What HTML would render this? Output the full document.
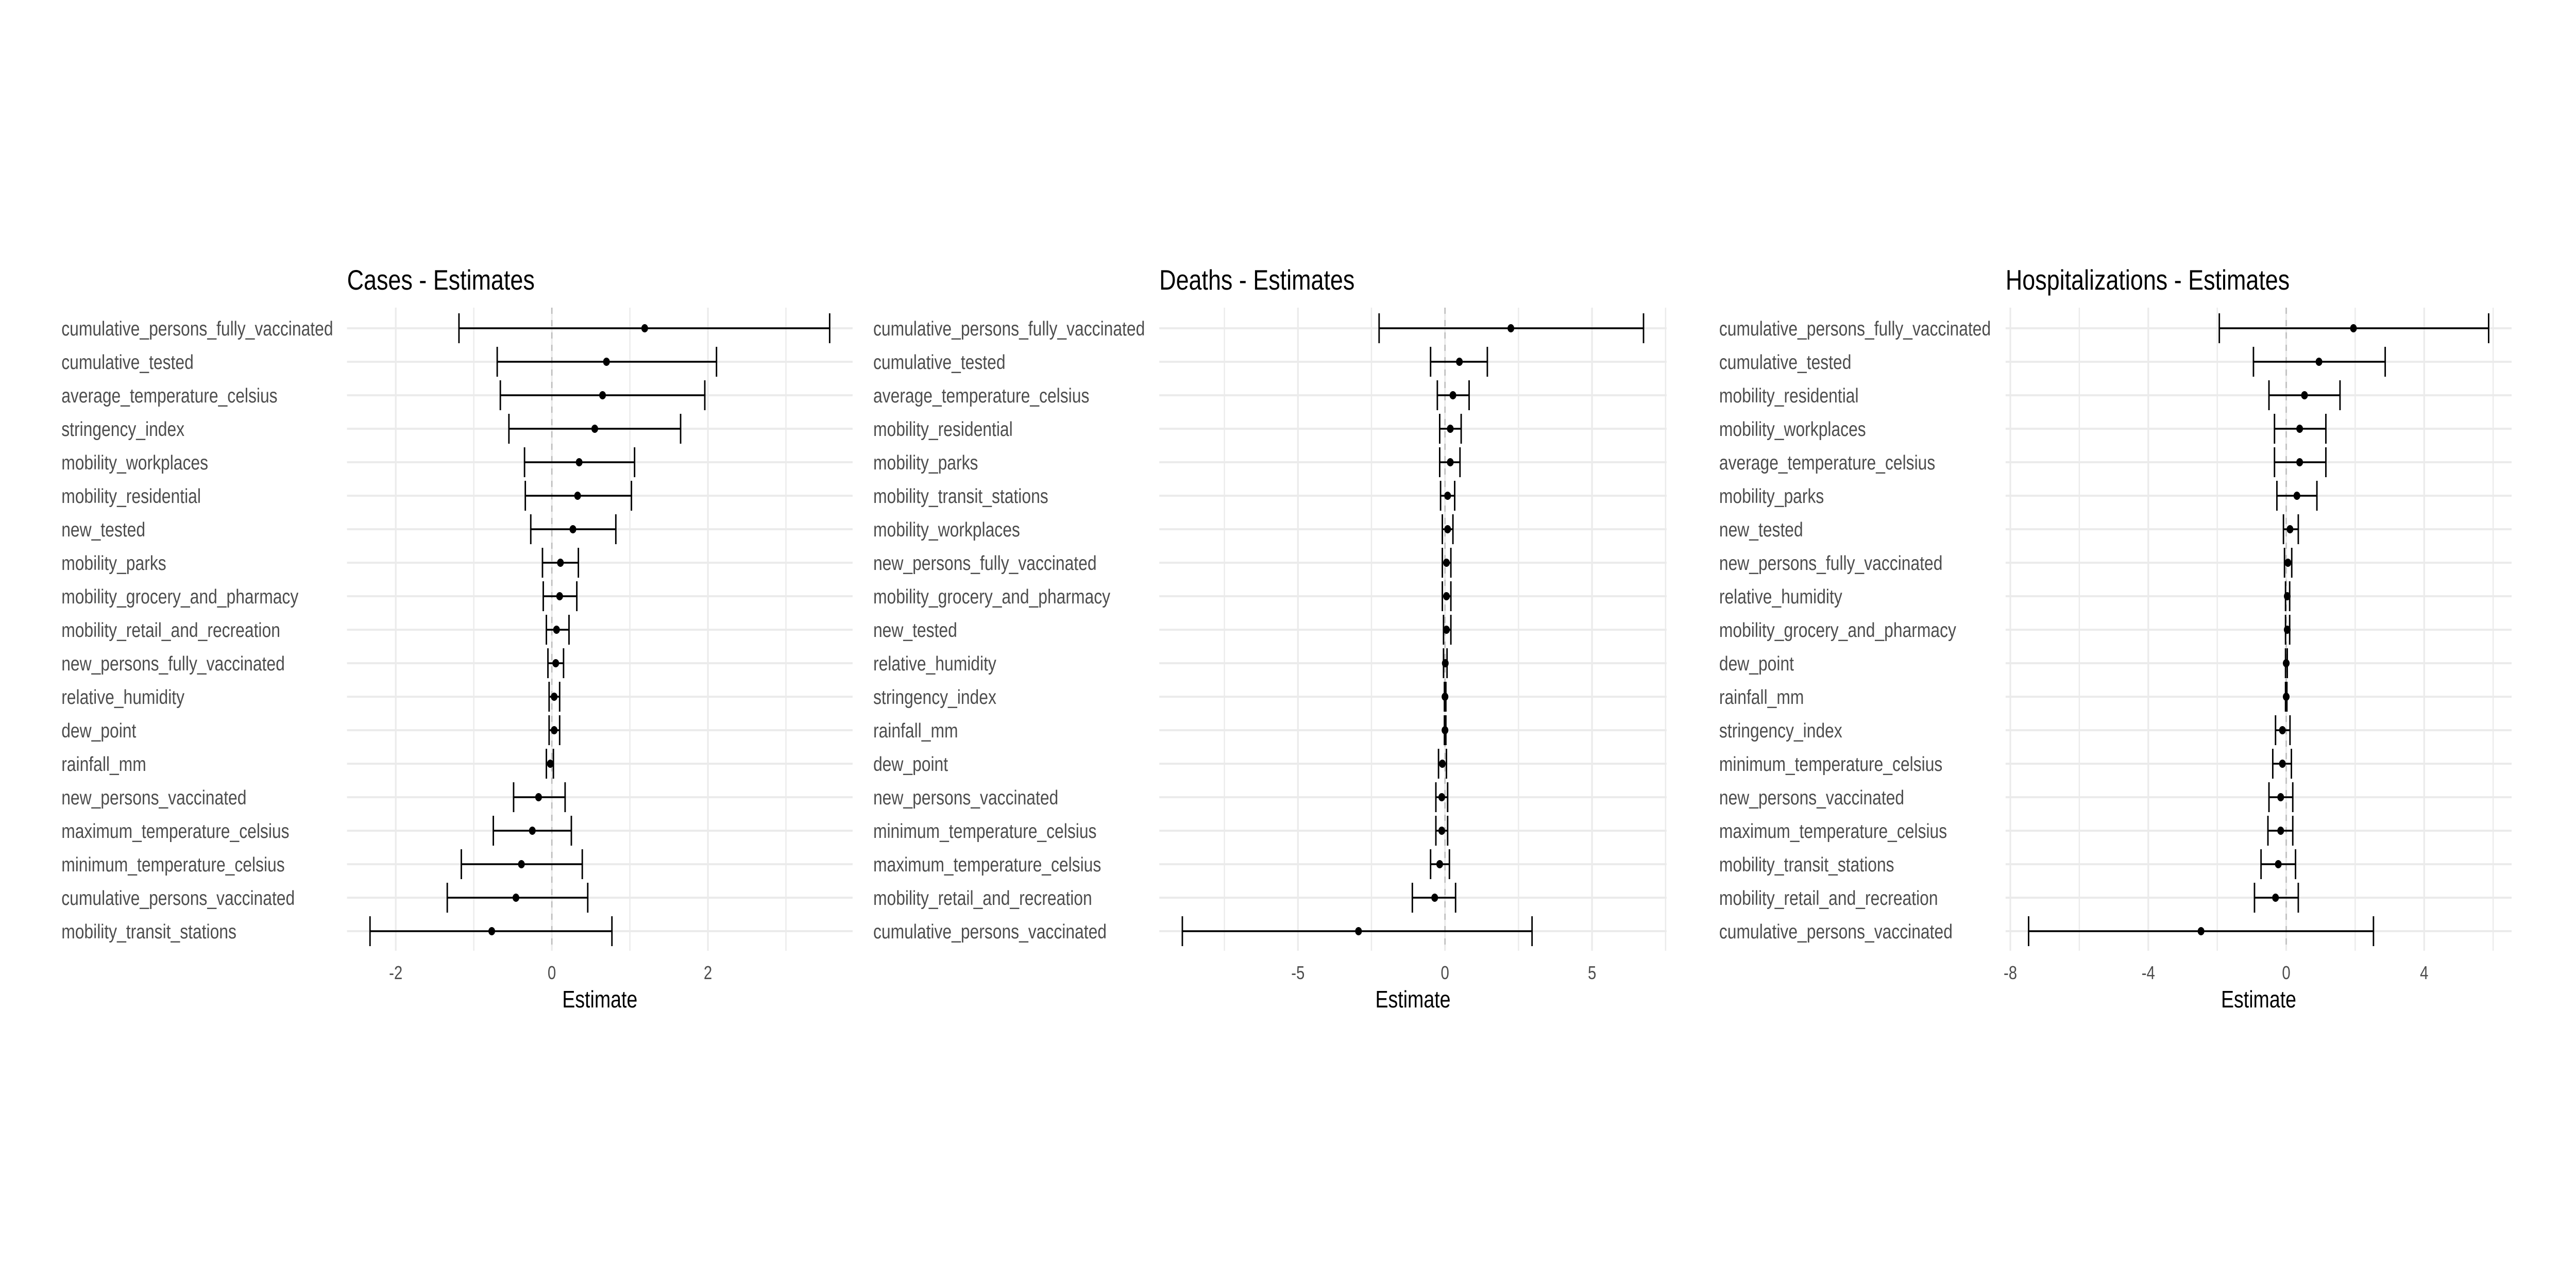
<!DOCTYPE html>
<html>
<head>
<meta charset="utf-8">
<meta name="viewport" content="width=6124, initial-scale=1">
<style>
  html, body { margin: 0; padding: 0; background: #ffffff; overflow: hidden; width: 6124px; height: 2480px; }
  svg { display: block; position: fixed; left: 0; top: 0; width: 100vw; height: 100vh; }
  text { font-family: "Liberation Sans", Arial, sans-serif; }
</style>
</head>
<body>
<svg id="chart" xmlns="http://www.w3.org/2000/svg" viewBox="0 0 6124 2480" preserveAspectRatio="none">
  <rect x="0" y="0" width="6124" height="2480" fill="#ffffff"/>
</svg>
<script>
// ---- Cases ----
const casesLabels = ["cumulative_persons_fully_vaccinated","cumulative_tested","average_temperature_celsius","stringency_index","mobility_workplaces","mobility_residential","new_tested","mobility_parks","mobility_grocery_and_pharmacy","mobility_retail_and_recreation","new_persons_fully_vaccinated","relative_humidity","dew_point","rainfall_mm","new_persons_vaccinated","maximum_temperature_celsius","minimum_temperature_celsius","cumulative_persons_vaccinated","mobility_transit_stations"];
const casesEst = [1.19,0.70,0.65,0.55,0.35,0.33,0.27,0.11,0.10,0.06,0.05,0.03,0.03,-0.02,-0.17,-0.25,-0.39,-0.46,-0.77];
const casesLo = [-1.19,-0.70,-0.66,-0.55,-0.35,-0.34,-0.27,-0.12,-0.11,-0.07,-0.05,-0.035,-0.035,-0.07,-0.49,-0.75,-1.16,-1.34,-2.33];
const casesHi = [3.56,2.11,1.96,1.65,1.06,1.02,0.82,0.34,0.32,0.22,0.15,0.10,0.10,0.02,0.17,0.25,0.39,0.46,0.77];
const casesBreaks = [-2,0,2];
const casesMinor = [-1,1,3];

// ---- Deaths ----
const deathsLabels = ["cumulative_persons_fully_vaccinated","cumulative_tested","average_temperature_celsius","mobility_residential","mobility_parks","mobility_transit_stations","mobility_workplaces","new_persons_fully_vaccinated","mobility_grocery_and_pharmacy","new_tested","relative_humidity","stringency_index","rainfall_mm","dew_point","new_persons_vaccinated","minimum_temperature_celsius","maximum_temperature_celsius","mobility_retail_and_recreation","cumulative_persons_vaccinated"];
const deathsEst = [2.24,0.49,0.27,0.18,0.18,0.09,0.09,0.05,0.05,0.05,0.01,0,0,-0.09,-0.11,-0.11,-0.18,-0.35,-2.94];
const deathsLo = [-2.24,-0.49,-0.26,-0.18,-0.18,-0.15,-0.09,-0.09,-0.09,-0.05,-0.05,-0.02,-0.02,-0.22,-0.31,-0.31,-0.49,-1.11,-8.93];
const deathsHi = [6.75,1.44,0.82,0.55,0.51,0.33,0.27,0.20,0.20,0.20,0.07,0.03,0.03,0.05,0.09,0.09,0.15,0.36,2.96];
const deathsBreaks = [-5,0,5];
const deathsMinor = [-7.5,-2.5,2.5,7.5];

// ---- Hospitalizations ----
const hospLabels = ["cumulative_persons_fully_vaccinated","cumulative_tested","mobility_residential","mobility_workplaces","average_temperature_celsius","mobility_parks","new_tested","new_persons_fully_vaccinated","relative_humidity","mobility_grocery_and_pharmacy","dew_point","rainfall_mm","stringency_index","minimum_temperature_celsius","new_persons_vaccinated","maximum_temperature_celsius","mobility_transit_stations","mobility_retail_and_recreation","cumulative_persons_vaccinated"];
const hospEst = [1.95,0.95,0.53,0.39,0.39,0.31,0.11,0.05,0.03,0.03,0,0,-0.11,-0.11,-0.16,-0.16,-0.23,-0.31,-2.47];
const hospLo = [-1.94,-0.95,-0.50,-0.34,-0.34,-0.27,-0.08,-0.05,-0.02,-0.02,-0.02,-0.02,-0.31,-0.39,-0.50,-0.53,-0.73,-0.92,-7.47];
const hospHi = [5.87,2.87,1.56,1.15,1.15,0.89,0.35,0.16,0.10,0.10,0.03,0.02,0.11,0.15,0.19,0.19,0.27,0.35,2.53];
const hospBreaks = [-8,-4,0,4];
const hospMinor = [-6,-2,2,6];

const NS = "http://www.w3.org/2000/svg";
const svg = document.getElementById("chart");
function mk(tag, attrs, parent) {
  const e = document.createElementNS(NS, tag);
  for (const k in attrs) e.setAttribute(k, attrs[k]);
  (parent || svg).appendChild(e);
  return e;
}

const ROW0 = 637, ROWSTEP = 65.0, PTOP = 597, PBOT = 1845;

function drawPanel(key, title, labels, est, lo, hi, breaks, minor, labelX, px0, px1) {
  const g = mk("g", {});
  
  
  const dmin = Math.min(...lo), dmax = Math.max(...hi);
  const pad = (dmax - dmin) * 0.05;
  const d0 = dmin - pad, d1 = dmax + pad;
  const xs = v => px0 + (v - d0) / (d1 - d0) * (px1 - px0);
  const ys = i => ROW0 + i * ROWSTEP;

  minor.forEach(v => {
    if (v < d0 || v > d1) return;
    const l = mk("line", {x1: xs(v), x2: xs(v), y1: PTOP, y2: PBOT, stroke: "#ebebeb", "stroke-width": 3}, g);
    
    
  });
  breaks.forEach(v => {
    const l = mk("line", {x1: xs(v), x2: xs(v), y1: PTOP, y2: PBOT, stroke: "#ebebeb", "stroke-width": 4}, g);
    
    
  });
  labels.forEach((lab, i) => {
    const l = mk("line", {x1: px0, x2: px1, y1: ys(i), y2: ys(i), stroke: "#ebebeb", "stroke-width": 4}, g);
    
    
  });
  const z = mk("line", {x1: xs(0), x2: xs(0), y1: PTOP, y2: PBOT, stroke: "#bdbdbd", "stroke-width": 3, "stroke-dasharray": "12 12"}, g);
  
  

  const t = mk("text", {x: px0, y: 562, "font-size": 55, fill: "#000"}, g);
  t.textContent = title;
  
  

  labels.forEach((lab, i) => {
    const tx = mk("text", {x: labelX, y: ys(i) + 14, "font-size": 39, fill: "#4d4d4d"}, g);
    tx.textContent = lab;
    
    
  });

  est.forEach((v, i) => {
    const y = ys(i);
    const eb = mk("g", {stroke: "#000", "stroke-width": 3.5, fill: "none"}, g);
    
    
    mk("line", {x1: xs(lo[i]), x2: xs(hi[i]), y1: y, y2: y}, eb);
    mk("line", {x1: xs(lo[i]), x2: xs(lo[i]), y1: y - 29, y2: y + 29}, eb);
    mk("line", {x1: xs(hi[i]), x2: xs(hi[i]), y1: y - 29, y2: y + 29}, eb);
    const c = mk("circle", {cx: xs(v), cy: y, r: 8, fill: "#000"}, g);
    
    
  });

  breaks.forEach(v => {
    const tl = mk("text", {x: xs(v), y: 1900, "font-size": 36, fill: "#4d4d4d", "text-anchor": "middle"}, g);
    tl.textContent = String(v);
    
    
  });
  const at = mk("text", {x: (px0 + px1) / 2, y: 1955, "font-size": 46, fill: "#000", "text-anchor": "middle"}, g);
  at.textContent = "Estimate";
  
  
}

drawPanel("cases", "Cases - Estimates", casesLabels, casesEst, casesLo, casesHi, casesBreaks, casesMinor, 146, 825, 2027);
drawPanel("deaths", "Deaths - Estimates", deathsLabels, deathsEst, deathsLo, deathsHi, deathsBreaks, deathsMinor, 2076, 2756, 3962);
drawPanel("hosp", "Hospitalizations - Estimates", hospLabels, hospEst, hospLo, hospHi, hospBreaks, hospMinor, 4087, 4768, 5971);
</script>
</body>
</html>
